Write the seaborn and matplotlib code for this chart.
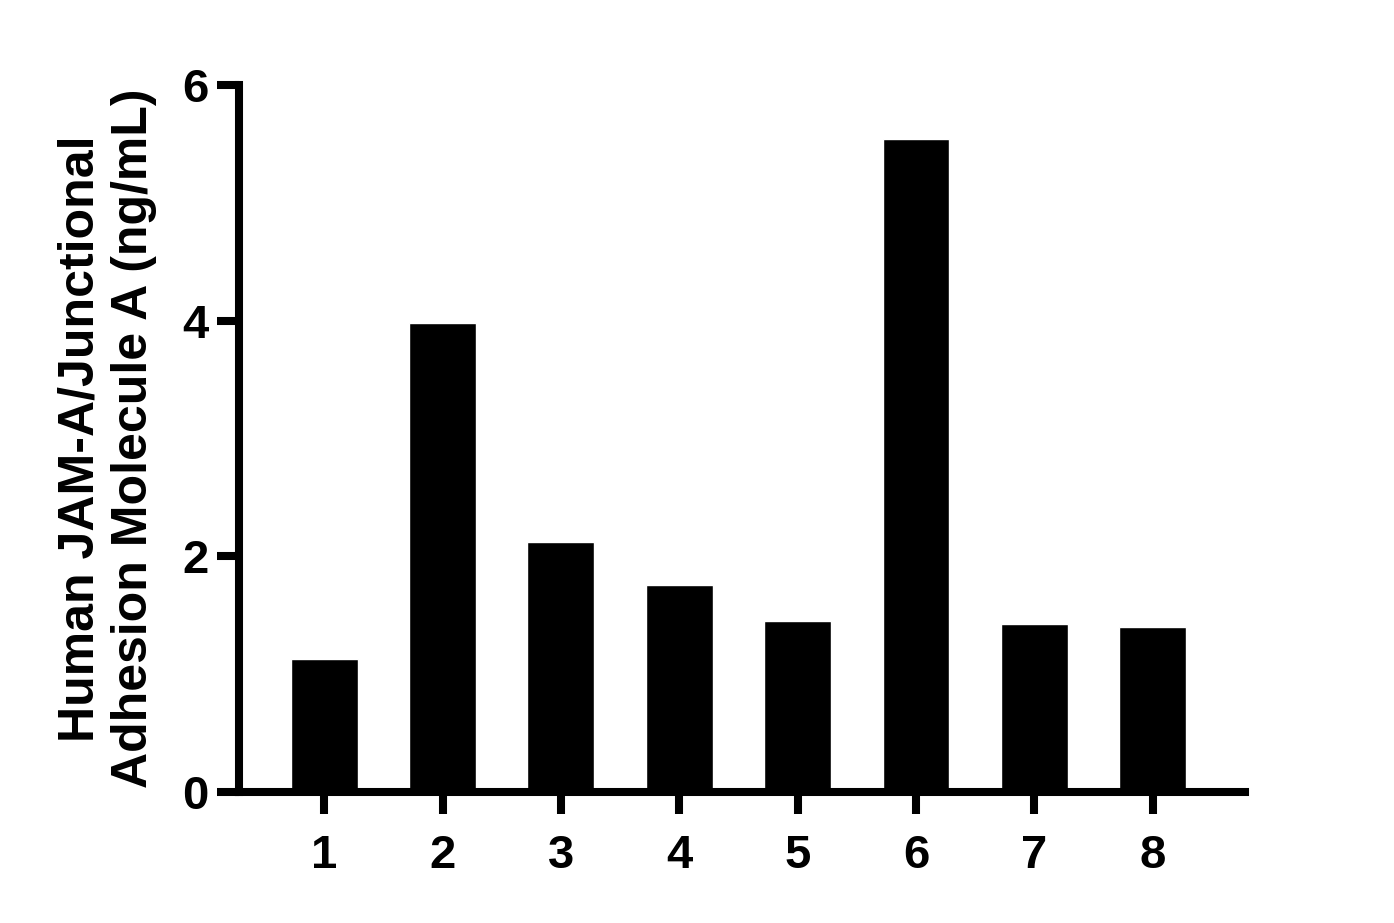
import matplotlib
matplotlib.use('Agg')
import matplotlib.pyplot as plt
import seaborn as sns
import pandas as pd

# sample numbers and measured concentrations (ng/mL)
samples = ['1', '2', '3', '4', '5', '6', '7', '8']
conc = [1.13, 3.98, 2.12, 1.76, 1.45, 5.54, 1.43, 1.40]

df = pd.DataFrame({'sample': samples, 'conc': conc})

sns.set_style('white')
plt.rcParams['font.family'] = ['Liberation Sans', 'DejaVu Sans']
plt.rcParams['font.weight'] = 'bold'
plt.rcParams['text.color'] = 'black'
plt.rcParams['axes.labelcolor'] = 'black'
plt.rcParams['xtick.color'] = 'black'
plt.rcParams['ytick.color'] = 'black'

fig = plt.figure(figsize=(13.94, 9.23), dpi=100)
ax = fig.add_axes([0.1714, 0.1419, 0.7217, 0.766])

sns.barplot(data=df, x='sample', y='conc', color='black', width=0.565,
            saturation=1, ax=ax, errorbar=None)

ax.set_xlim(-0.72, 7.78)
ax.set_ylim(0, 6)
ax.set_yticks([0, 2, 4, 6])

for side in ['top', 'right']:
    ax.spines[side].set_visible(False)
for side in ['left', 'bottom']:
    ax.spines[side].set_linewidth(5.8)
    ax.spines[side].set_color('black')

ax.tick_params(axis='both', which='major', direction='out', length=16, width=5.8,
               colors='black', labelsize=34, left=True, bottom=True)
ax.tick_params(axis='y', pad=6)
ax.tick_params(axis='x', pad=14)
for lab in ax.get_xticklabels() + ax.get_yticklabels():
    lab.set_fontweight('bold')

ax.set_xlabel('')
ax.set_ylabel('Human JAM-A/Junctional\nAdhesion Molecule A (ng/mL)',
              fontsize=36, fontweight='bold', color='black', labelpad=18)

fig.savefig('out.png', dpi=100)
